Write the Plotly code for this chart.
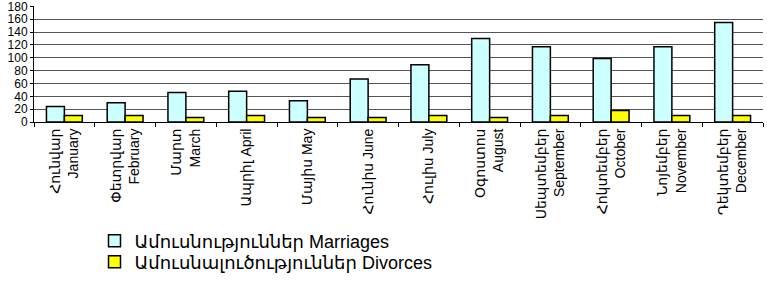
import plotly.graph_objects as go

months = [
    "Հունվար<br>January", "Փետրվար<br>February", "Մարտ<br>March", "Ապրիլ April",
    "Մայիս May", "Հունիս June", "Հուլիս July", "Օգոստոս<br>August",
    "Սեպտեմբեր<br>September", "Հոկտեմբեր<br>October", "Նոյեմբեր<br>November",
    "Դեկտեմբեր<br>December",
]
marriages = [24, 30, 46, 48, 33, 67, 89, 130, 117, 99, 117, 155]
divorces = [10, 10, 7, 10, 7, 7, 10, 7, 10, 18, 10, 10]
y_ticks = [0, 20, 40, 60, 80, 100, 120, 140, 160, 180]

font_family = "Arial, Liberation Sans, DejaVu Sans, sans-serif"

fig = go.Figure()
fig.add_trace(go.Bar(
    x=months, y=marriages, name="Ամուսնություններ Marriages",
    marker=dict(color="#CCFFFF", line=dict(color="black", width=1.5)),
    legend="legend",
))
fig.add_trace(go.Bar(
    x=months, y=divorces, name="Ամուսնալուծություններ Divorces",
    marker=dict(color="#FFFF00", line=dict(color="black", width=1.5)),
    legend="legend2",
))

plot_h = 281 - 6 - 159

def leg(ycenter_px):
    return dict(
        x=0.083, y=(122 - ycenter_px) / plot_h, xanchor="left", yanchor="middle",
        font=dict(size=18, family=font_family), itemwidth=30,
        bgcolor="rgba(0,0,0,0)",
    )

fig.update_layout(
    width=767, height=281,
    margin=dict(l=34, r=4, t=6, b=159, autoexpand=False),
    paper_bgcolor="white", plot_bgcolor="white",
    barmode="group", bargap=0.41, bargroupgap=0,
    font=dict(family=font_family, size=12, color="black"),
    showlegend=True,
    legend=leg(241),
    legend2=leg(262),
    xaxis=dict(
        type="category", tickangle=-90, tickson="boundaries",
        ticks="outside", ticklen=4, tickcolor="black",
        showline=True, linecolor="black", linewidth=1,
        showgrid=False, tickfont=dict(size=14), automargin=False,
    ),
    yaxis=dict(
        range=[0, 180.6], tickvals=y_ticks, ticks="outside", ticklen=3,
        tickcolor="black", showline=True, linecolor="black", linewidth=1,
        showgrid=True, gridcolor="#555555", gridwidth=1,
        zeroline=False, tickfont=dict(size=12), automargin=False,
        ticklabeloverflow="allow",
    ),
)

fig.write_html(
    "out.html",
    config={"displayModeBar": False},
    post_script="document.body.style.margin='0';document.body.style.overflow='hidden';",
)
